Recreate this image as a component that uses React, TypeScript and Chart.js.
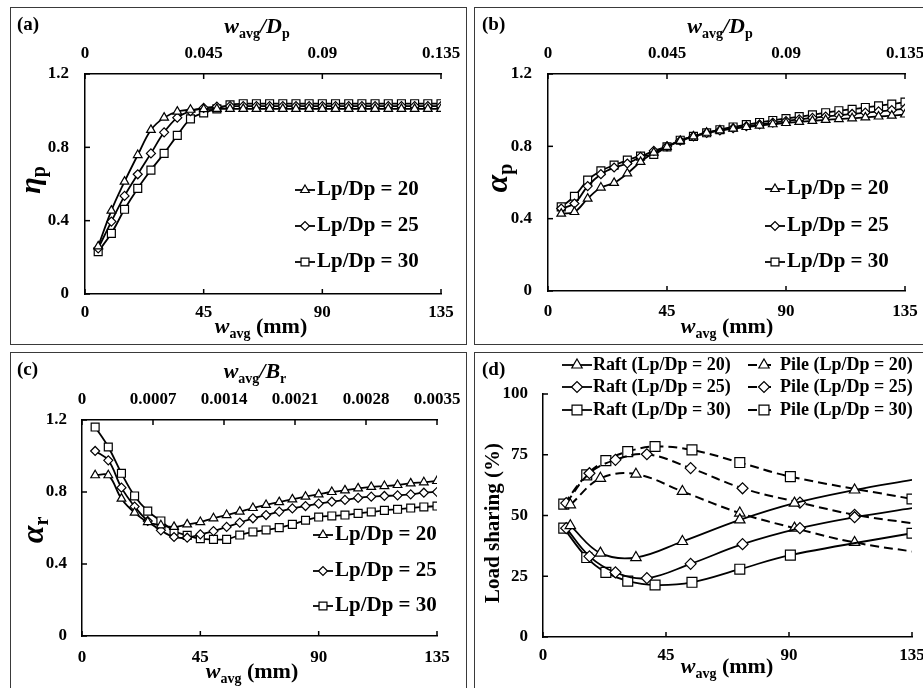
import React, { useEffect, useRef } from 'react';
import { Chart, registerables } from 'chart.js';

Chart.register(...registerables);

const SERIF = '"Liberation Serif", "Times New Roman", serif';
Chart.defaults.font.family = SERIF;
Chart.defaults.color = '#000';

// ---------------- data ----------------
const wAvg = [5, 10, 15, 20, 25, 30, 35, 40, 45, 50, 55, 60, 65, 70, 75, 80, 85, 90, 95, 100, 105, 110, 115, 120, 125, 130, 135];

// (a) eta_p
const etaP20 = [0.26, 0.455, 0.613, 0.758, 0.895, 0.962, 0.995, 1.005, 1.008, 1.01, 1.01, 1.01, 1.01, 1.01, 1.01, 1.01, 1.01, 1.01, 1.01, 1.01, 1.01, 1.01, 1.01, 1.01, 1.01, 1.01, 1.01];
const etaP25 = [0.249, 0.395, 0.535, 0.653, 0.767, 0.882, 0.962, 0.997, 1.015, 1.022, 1.025, 1.025, 1.025, 1.025, 1.025, 1.025, 1.025, 1.025, 1.025, 1.025, 1.025, 1.025, 1.025, 1.025, 1.025, 1.025, 1.025];
const etaP30 = [0.231, 0.331, 0.462, 0.576, 0.676, 0.767, 0.865, 0.955, 0.988, 1.01, 1.032, 1.038, 1.038, 1.038, 1.038, 1.038, 1.038, 1.038, 1.038, 1.038, 1.038, 1.038, 1.038, 1.038, 1.038, 1.038, 1.038];

// (b) alpha_p
const alphaP20 = [0.428, 0.437, 0.511, 0.572, 0.598, 0.65, 0.714, 0.765, 0.797, 0.83, 0.855, 0.875, 0.888, 0.898, 0.907, 0.915, 0.922, 0.929, 0.935, 0.941, 0.946, 0.951, 0.955, 0.96, 0.965, 0.97, 0.976];
const alphaP25 = [0.456, 0.484, 0.58, 0.646, 0.683, 0.705, 0.742, 0.775, 0.8, 0.831, 0.855, 0.874, 0.888, 0.9, 0.911, 0.921, 0.931, 0.94, 0.949, 0.957, 0.965, 0.972, 0.979, 0.986, 0.993, 1.0, 1.008];
const alphaP30 = [0.465, 0.524, 0.613, 0.665, 0.696, 0.724, 0.746, 0.755, 0.797, 0.834, 0.855, 0.875, 0.892, 0.907, 0.92, 0.932, 0.943, 0.954, 0.964, 0.974, 0.986, 0.997, 1.005, 1.015, 1.024, 1.034, 1.045];

// (c) alpha_r
const alphaR20 = [0.893, 0.893, 0.763, 0.685, 0.633, 0.615, 0.606, 0.62, 0.633, 0.654, 0.672, 0.691, 0.711, 0.728, 0.744, 0.759, 0.774, 0.787, 0.8, 0.809, 0.82, 0.828, 0.833, 0.839, 0.848, 0.854, 0.861];
const alphaR25 = [1.028, 0.976, 0.824, 0.719, 0.639, 0.587, 0.55, 0.546, 0.565, 0.583, 0.606, 0.63, 0.654, 0.672, 0.691, 0.709, 0.722, 0.735, 0.746, 0.756, 0.767, 0.774, 0.778, 0.781, 0.787, 0.796, 0.8];
const alphaR30 = [1.161, 1.05, 0.904, 0.778, 0.694, 0.639, 0.583, 0.559, 0.541, 0.537, 0.537, 0.561, 0.578, 0.589, 0.602, 0.62, 0.643, 0.661, 0.667, 0.672, 0.681, 0.689, 0.698, 0.704, 0.711, 0.717, 0.722];

// (d) load sharing (%)
const d20X = [10, 21, 34, 51, 72, 92, 114, 135];
const raft20 = [45.8, 34.5, 32.7, 39.3, 48.2, 55.1, 60.5, 64.7];
const pile20 = [54.4, 65.3, 67.0, 59.9, 51.0, 44.8, 38.9, 35.2];
const d25X = [8.5, 17, 26.5, 38, 54, 73, 94, 114, 135];
const raft25 = [44.8, 33.2, 26.6, 24.2, 30.1, 38.2, 44.8, 49.3, 53.0];
const pile25 = [55.1, 67.4, 72.9, 75.2, 69.5, 61.2, 55.3, 50.3, 46.8];
const d30X = [7.6, 16, 23, 31, 41, 54.5, 72, 90.5, 135];
const raft30 = [44.8, 32.7, 26.6, 23.0, 21.4, 22.5, 27.9, 33.7, 42.7];
const pile30 = [54.7, 66.7, 72.6, 76.3, 78.4, 77.0, 71.8, 66.0, 56.8];

// ticks
const xTicks = [0, 45, 90, 135];
const xTickLabels = ['0', '45', '90', '135'];
const topTicksDp = [0, 0.045, 0.09, 0.135];
const topLabelsDp = ['0', '0.045', '0.09', '0.135'];
const topTicksBr = [0, 0.0007, 0.0014, 0.0021, 0.0028, 0.0035];
const topLabelsBr = ['0', '0.0007', '0.0014', '0.0021', '0.0028', '0.0035'];
const yTicksRatio = [0, 0.4, 0.8, 1.2];
const yLabelsRatio = ['0', '0.4', '0.8', '1.2'];
const yTicksShare = [0, 25, 50, 75, 100];
const yLabelsShare = ['0', '25', '50', '75', '100'];

const seriesLabels = ['Lp/Dp = 20', 'Lp/Dp = 25', 'Lp/Dp = 30'];
const raftLabels = ['Raft (Lp/Dp = 20)', 'Raft (Lp/Dp = 25)', 'Raft (Lp/Dp = 30)'];
const pileLabels = ['Pile (Lp/Dp = 20)', 'Pile (Lp/Dp = 25)', 'Pile (Lp/Dp = 30)'];

// ---------------- helpers ----------------
const B = (s: number) => `bold ${s}px ${SERIF}`;
const BI = (s: number) => `bold italic ${s}px ${SERIF}`;

const STYLES = ['triangle', 'rectRot', 'rect'];
const MR_ABC: any = { triangle: 5, rectRot: 4.5, rect: 5.6 };
const MR_D: any = { triangle: 6, rectRot: 5.5, rect: 7 };

function drawMarker(ctx: CanvasRenderingContext2D, style: string, x: number, y: number, r: number) {
  ctx.beginPath();
  if (style === 'triangle') {
    ctx.moveTo(x, y - r);
    ctx.lineTo(x + Math.sin((2 * Math.PI) / 3) * r, y - Math.cos((2 * Math.PI) / 3) * r);
    ctx.lineTo(x + Math.sin((4 * Math.PI) / 3) * r, y - Math.cos((4 * Math.PI) / 3) * r);
  } else if (style === 'rectRot') {
    ctx.moveTo(x - r, y);
    ctx.lineTo(x, y - r);
    ctx.lineTo(x + r, y);
    ctx.lineTo(x, y + r);
  } else {
    const h = r * Math.SQRT1_2;
    ctx.rect(x - h, y - h, 2 * h, 2 * h);
  }
  ctx.closePath();
  ctx.fill();
  ctx.stroke();
}

type Seg = [string, string, number?];
interface RichItem { segs: Seg[]; x: number; y: number; rot?: boolean; align?: string }
interface LegendEntry { ds: number; y: number; x0: number; x1: number; mx: number; tx: number; r: number; font: string }

function drawRich(ctx: CanvasRenderingContext2D, it: RichItem) {
  ctx.save();
  ctx.translate(it.x, it.y);
  if (it.rot) ctx.rotate(-Math.PI / 2);
  let total = 0;
  it.segs.forEach((s) => { ctx.font = s[1]; total += ctx.measureText(s[0]).width; });
  let cx = it.align === 'left' ? 0 : -total / 2;
  ctx.fillStyle = '#000';
  ctx.textAlign = 'left';
  ctx.textBaseline = 'alphabetic';
  it.segs.forEach((s) => {
    ctx.font = s[1];
    ctx.fillText(s[0], cx, s[2] || 0);
    cx += ctx.measureText(s[0]).width;
  });
  ctx.restore();
}

const inTicksPlugin = {
  id: 'inTicks',
  afterDatasetsDraw(chart: any) {
    const { ctx, chartArea: a } = chart;
    ctx.save();
    ctx.strokeStyle = '#000';
    ctx.lineWidth = 1.5;
    Object.values(chart.scales).forEach((s: any) => {
      s.ticks.forEach((t: any) => {
        const p = s.getPixelForValue(t.value);
        ctx.beginPath();
        if (s.position === 'left') { ctx.moveTo(a.left, p); ctx.lineTo(a.left + 5, p); }
        else if (s.position === 'bottom') { ctx.moveTo(p, a.bottom); ctx.lineTo(p, a.bottom - 5); }
        else if (s.position === 'top') { ctx.moveTo(p, a.top); ctx.lineTo(p, a.top + 5); }
        ctx.stroke();
      });
    });
    ctx.restore();
  },
};

function overlayPlugin(items: RichItem[], legend: LegendEntry[]) {
  return {
    id: 'overlay',
    afterDraw(chart: any) {
      const ctx: CanvasRenderingContext2D = chart.ctx;
      items.forEach((it) => drawRich(ctx, it));
      legend.forEach((e) => {
        const ds = chart.data.datasets[e.ds];
        ctx.save();
        ctx.strokeStyle = '#000';
        ctx.lineWidth = ds.borderWidth;
        ctx.setLineDash(ds.borderDash || []);
        ctx.beginPath();
        ctx.moveTo(e.x0, e.y);
        ctx.lineTo(e.x1, e.y);
        ctx.stroke();
        ctx.setLineDash([]);
        ctx.lineWidth = ds.pointBorderWidth;
        ctx.fillStyle = '#fff';
        drawMarker(ctx, ds.pointStyle, e.mx, e.y, e.r);
        ctx.fillStyle = '#000';
        ctx.font = e.font;
        ctx.textAlign = 'left';
        ctx.textBaseline = 'middle';
        ctx.fillText(ds.label, e.tx, e.y);
        ctx.restore();
      });
    },
  };
}

function lineDs(label: string, xs: number[], ys: number[], style: string, r: number, dashed: boolean, hideLast: boolean) {
  const n = ys.length;
  return {
    label,
    data: xs.map((x, i) => ({ x, y: ys[i] })),
    borderColor: '#000',
    borderWidth: dashed ? 2 : 1.8,
    borderDash: dashed ? [9, 5] : [],
    pointStyle: style,
    pointRadius: (c: any) => (hideLast && c.dataIndex === n - 1 ? 0 : r),
    pointBorderWidth: 1.2,
    pointBackgroundColor: '#fff',
    pointBorderColor: '#000',
    tension: 0.38,
    fill: false,
    xAxisID: 'x',
    yAxisID: 'y',
  };
}

interface PanelSpec {
  W: number; H: number; L: number; R: number; T: number; B: number;
  datasets: any[];
  yMax: number; yTicks: number[]; yLabels: string[];
  top?: { max: number; ticks: number[]; labels: string[] };
  yPad: number; xPad: number; topPad: number;
  items: RichItem[];
  legend: LegendEntry[];
}

function buildConfig(p: PanelSpec): any {
  const tickFont = { family: SERIF, size: 17, weight: 'bold' };
  const axisCommon = (labels: string[], pad: number) => ({
    type: 'linear',
    ticks: { font: tickFont, color: '#000', autoSkip: false, maxRotation: 0, minRotation: 0, padding: pad, callback: (_v: any, i: number) => labels[i] },
    grid: { display: true, drawOnChartArea: false, drawTicks: false },
    border: { display: true, color: '#000', width: 1.5 },
  });
  const scales: any = {
    x: {
      ...axisCommon(xTickLabels, p.xPad),
      position: 'bottom', min: 0, max: 135,
      afterBuildTicks: (s: any) => { s.ticks = xTicks.map((value) => ({ value })); },
      afterFit: (s: any) => { s.height = p.H - p.B; s.paddingLeft = 0; s.paddingRight = 0; },
    },
    y: {
      ...axisCommon(p.yLabels, p.yPad),
      position: 'left', min: 0, max: p.yMax,
      afterBuildTicks: (s: any) => { s.ticks = p.yTicks.map((value) => ({ value })); },
      afterFit: (s: any) => { s.width = p.L; s.paddingTop = 0; s.paddingBottom = 0; },
    },
  };
  if (p.top) {
    const t = p.top;
    scales.x2 = {
      ...axisCommon(t.labels, p.topPad),
      position: 'top', min: 0, max: t.max,
      afterBuildTicks: (s: any) => { s.ticks = t.ticks.map((value) => ({ value })); },
      afterFit: (s: any) => { s.height = p.T; s.paddingLeft = 0; s.paddingRight = 0; },
    };
  }
  return {
    type: 'line',
    data: { datasets: p.datasets },
    options: {
      responsive: false,
      animation: false,
      devicePixelRatio: 1,
      layout: { autoPadding: false, padding: { left: 0, right: p.W - p.R, top: p.top ? 0 : p.T, bottom: 0 } },
      plugins: { legend: { display: false }, tooltip: { enabled: false }, title: { display: false } },
      scales,
    },
    plugins: [inTicksPlugin, overlayPlugin(p.items, p.legend)],
  };
}

// ---------------- panel specs ----------------
function ratioDatasets(a: number[], b: number[], c: number[]) {
  return [a, b, c].map((ys, i) => lineDs(seriesLabels[i], wAvg, ys, STYLES[i], MR_ABC[STYLES[i]], false, false));
}

function ratioLegend(rows: number[], x0: number, mx: number, x1: number, tx: number): LegendEntry[] {
  return rows.map((y, i) => ({ ds: i, y, x0, x1, mx, tx, r: MR_ABC[STYLES[i]], font: B(21) }));
}

const wTitle = (x: number, y: number): RichItem => ({ segs: [['w', BI(22)], ['avg', B(14), 5], [' (mm)', B(22)]], x, y });

const specA: PanelSpec = {
  W: 457, H: 338, L: 75, R: 431, T: 67, B: 287,
  datasets: ratioDatasets(etaP20, etaP25, etaP30),
  yMax: 1.2, yTicks: yTicksRatio, yLabels: yLabelsRatio,
  top: { max: 0.135, ticks: topTicksDp, labels: topLabelsDp },
  yPad: 16, xPad: 8, topPad: 10,
  items: [
    { segs: [['(a)', B(19)]], x: 7, y: 23, align: 'left' },
    { segs: [['w', BI(22)], ['avg', B(14), 5], ['/', BI(22)], ['D', BI(22)], ['p', B(14), 5]], x: 247, y: 26 },
    wTitle(251, 326),
    { segs: [['η', BI(30)], ['p', B(20), 5]], x: 30, y: 173, rot: true },
  ],
  legend: ratioLegend([183, 219, 255], 285, 295, 305, 307),
};

const specB: PanelSpec = {
  W: 452, H: 338, L: 74, R: 431, T: 67, B: 284,
  datasets: ratioDatasets(alphaP20, alphaP25, alphaP30),
  yMax: 1.2, yTicks: yTicksRatio, yLabels: yLabelsRatio,
  top: { max: 0.135, ticks: topTicksDp, labels: topLabelsDp },
  yPad: 16, xPad: 10, topPad: 10,
  items: [
    { segs: [['(b)', B(19)]], x: 8, y: 23, align: 'left' },
    { segs: [['w', BI(22)], ['avg', B(14), 5], ['/', BI(22)], ['D', BI(22)], ['p', B(14), 5]], x: 246, y: 26 },
    wTitle(253, 326),
    { segs: [['α', BI(32)], ['p', B(20), 5]], x: 33, y: 171, rot: true },
  ],
  legend: ratioLegend([182, 219, 255], 291, 301, 311, 313),
};

const specC: PanelSpec = {
  W: 457, H: 340, L: 72, R: 427, T: 68, B: 284,
  datasets: ratioDatasets(alphaR20, alphaR25, alphaR30),
  yMax: 1.2, yTicks: yTicksRatio, yLabels: yLabelsRatio,
  top: { max: 0.0035, ticks: topTicksBr, labels: topLabelsBr },
  yPad: 15, xPad: 11, topPad: 10,
  items: [
    { segs: [['(c)', B(19)]], x: 7, y: 23, align: 'left' },
    { segs: [['w', BI(22)], ['avg', B(14), 5], ['/', BI(22)], ['B', BI(22)], ['r', B(14), 5]], x: 245, y: 26 },
    wTitle(242, 326),
    { segs: [['α', BI(32)], ['r', B(20), 5]], x: 33, y: 178, rot: true },
  ],
  legend: ratioLegend([183, 219, 254], 303, 313, 323, 325),
};

const dXs = [d20X, d25X, d30X];
const dRaft = [raft20, raft25, raft30];
const dPile = [pile20, pile25, pile30];
const dRows = [13, 35, 58];

const specD: PanelSpec = {
  W: 452, H: 340, L: 69, R: 438, T: 42, B: 285,
  datasets: [
    ...dRaft.map((ys, i) => lineDs(raftLabels[i], dXs[i], ys, STYLES[i], MR_D[STYLES[i]], false, i < 2)),
    ...dPile.map((ys, i) => lineDs(pileLabels[i], dXs[i], ys, STYLES[i], MR_D[STYLES[i]], true, i < 2)),
  ],
  yMax: 100, yTicks: yTicksShare, yLabels: yLabelsShare,
  yPad: 15, xPad: 8, topPad: 10,
  items: [
    { segs: [['(d)', B(19)]], x: 8, y: 23, align: 'left' },
    wTitle(253, 321),
    { segs: [['Load sharing (%)', B(21)]], x: 25, y: 171, rot: true },
  ],
  legend: [
    ...dRows.map((y, i) => ({ ds: i, y, x0: 88, x1: 118, mx: 103, tx: 119, r: MR_D[STYLES[i]], font: B(18) })),
    ...dRows.map((y, i) => ({ ds: 3 + i, y, x0: 274, x1: 300, mx: 290, tx: 306, r: MR_D[STYLES[i]], font: B(18) })),
  ],
};

// ---------------- components ----------------
function ChartPanel({ x, y, spec }: { x: number; y: number; spec: PanelSpec }) {
  const ref = useRef<HTMLCanvasElement>(null);
  useEffect(() => {
    const chart = new Chart(ref.current as HTMLCanvasElement, buildConfig(spec));
    return () => chart.destroy();
  }, [spec]);
  return (
    <div style={{ position: 'absolute', left: x, top: y, width: spec.W, height: spec.H }}>
      <canvas ref={ref} width={spec.W} height={spec.H} style={{ display: 'block', width: spec.W, height: spec.H }} />
      <div
        style={{
          position: 'absolute', left: 0, top: 0, width: spec.W, height: spec.H,
          border: '1px solid #3a3a3a', boxSizing: 'border-box', pointerEvents: 'none',
        }}
      />
    </div>
  );
}

export default function App() {
  return (
    <div style={{ position: 'absolute', left: 0, top: 0, width: 923, height: 688, overflow: 'hidden', background: '#fff' }}>
      <ChartPanel x={10} y={7} spec={specA} />
      <ChartPanel x={474} y={7} spec={specB} />
      <ChartPanel x={10} y={352} spec={specC} />
      <ChartPanel x={474} y={352} spec={specD} />
    </div>
  );
}
